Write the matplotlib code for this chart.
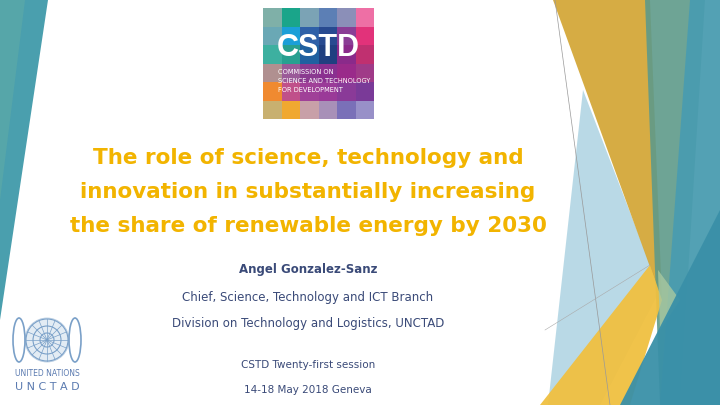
import matplotlib
matplotlib.use("Agg")
import matplotlib.pyplot as plt
from matplotlib.patches import Polygon, Rectangle, Circle, Ellipse
import math

title_lines = ["The role of science, technology and",
               "innovation in substantially increasing",
               "the share of renewable energy by 2030"]
author = "Angel Gonzalez-Sanz"
info_lines = ["Chief, Science, Technology and ICT Branch",
              "Division on Technology and Logistics, UNCTAD"]
session_lines = ["CSTD Twenty-first session", "14-18 May 2018 Geneva"]
logo_colors = [
    ["#7fb0a8", "#1aa58a", "#7ba3b5", "#5c7fb5", "#8b8fb8", "#ee6fa5"],
    ["#6aa8b5", "#1b9fd8", "#2f60a8", "#284a90", "#8a3d95", "#e2327a"],
    ["#3db0a0", "#27a090", "#2060a0", "#203f80", "#8a2a8a", "#c03070"],
    ["#b09090", "#9a5a98", "#8a3a90", "#8a3090", "#9a2a8a", "#a03a88"],
    ["#f08a30", "#c0508a", "#a04098", "#9a3a98", "#8a3a98", "#7a3a98"],
    ["#c8b070", "#f0a830", "#c8a0a8", "#a890b8", "#7a70b8", "#9890c8"],
]

fig = plt.figure(figsize=(7.2, 4.05), dpi=100)
ax = fig.add_axes([0, 0, 1, 1])
ax.set_xlim(0, 720); ax.set_ylim(405, 0); ax.axis("off")

def poly(pts, c, a=1.0, z=1):
    ax.add_patch(Polygon(pts, closed=True, fc=c, ec="none", alpha=a, zorder=z))

# left decoration
poly([(0, 0), (48, 0), (0, 320)], "#4a9fae", 1, 1)
poly([(0, 0), (25, 0), (0, 200)], "#5aa8a8", 0.8, 2)
# right decoration
poly([(583, 90), (660, 290), (600, 405), (548, 405)], "#a8d0e0", 0.8, 1)
poly([(553, 0), (650, 0), (662, 300)], "#d4a83a", 0.95, 2)
poly([(645, 0), (705, 0), (680, 405), (660, 405)], "#5e9a8a", 0.9, 2)
poly([(690, 0), (720, 0), (720, 405), (660, 405)], "#4a9cb0", 0.95, 3)
poly([(540, 405), (650, 265), (662, 300), (630, 405)], "#f0c040", 0.95, 4)
poly([(620, 405), (720, 210), (720, 405)], "#3a90a8", 0.95, 5)
poly([(658, 270), (680, 300), (660, 330)], "#a8c8a0", 0.8, 4)
ax.plot([555, 610], [0, 405], color="#999999", lw=0.5, zorder=6)
ax.plot([545, 650], [330, 265], color="#aaaaaa", lw=0.4, zorder=6)

# logo
x0, y0, s = 263, 8, 18.5
for r, row in enumerate(logo_colors):
    for c, col in enumerate(row):
        ax.add_patch(Rectangle((x0 + c * s, y0 + r * s), s, s, fc=col, ec="none", zorder=7))
ax.text(x0 + 3 * s, 48, "CSTD", color="white", fontsize=22, fontweight="bold",
        ha="center", va="center", zorder=8, family="Liberation Sans")
for i, t in enumerate(["COMMISSION ON", "SCIENCE AND TECHNOLOGY", "FOR DEVELOPMENT"]):
    ax.text(278, 72 + i * 9, t, color="white", fontsize=4.8, ha="left", va="center",
            zorder=8, family="Liberation Sans Narrow")

# title
for i, t in enumerate(title_lines):
    ax.text(308, 158 + i * 34, t, color="#f2b400", fontsize=15.5, fontweight="bold",
            ha="center", va="center", family="DejaVu Sans", zorder=9)
ax.text(308, 270, author, color="#3a4a78", fontsize=8.5, fontweight="bold",
        ha="center", va="center", zorder=9)
for i, t in enumerate(info_lines):
    ax.text(308, 298 + i * 26, t, color="#3a4a78", fontsize=8.5, ha="center", va="center", zorder=9)
for i, t in enumerate(session_lines):
    ax.text(308, 365 + i * 25, t, color="#3a4a78", fontsize=7.5, ha="center", va="center", zorder=9)

# UN emblem (approximation)
cx, cy = 47, 340
ec = "#7aa0c8"
ax.add_patch(Ellipse((cx, cy), 44, 44, fc="#c8daea", ec=ec, lw=0.6, alpha=0.5, zorder=8))
for rr in (7, 14, 21):
    ax.add_patch(Circle((cx, cy), rr, fc="none", ec=ec, lw=0.8, zorder=9))
for k in range(8):
    a = k * math.pi / 8
    ax.plot([cx - 21 * math.cos(a), cx + 21 * math.cos(a)],
            [cy - 21 * math.sin(a), cy + 21 * math.sin(a)], color=ec, lw=0.5, zorder=9)
ax.add_patch(Ellipse((cx - 28, cy), 12, 44, fc="none", ec=ec, lw=1.2, zorder=9))
ax.add_patch(Ellipse((cx + 28, cy), 12, 44, fc="none", ec=ec, lw=1.2, zorder=9))
ax.text(47, 374, "UNITED NATIONS", color="#5a7ab0", fontsize=5.5, ha="center", va="center", zorder=9)
ax.text(47, 387, "U N C T A D", color="#5a7ab0", fontsize=8, ha="center", va="center", zorder=9)

fig.savefig("out.png", dpi=100)
